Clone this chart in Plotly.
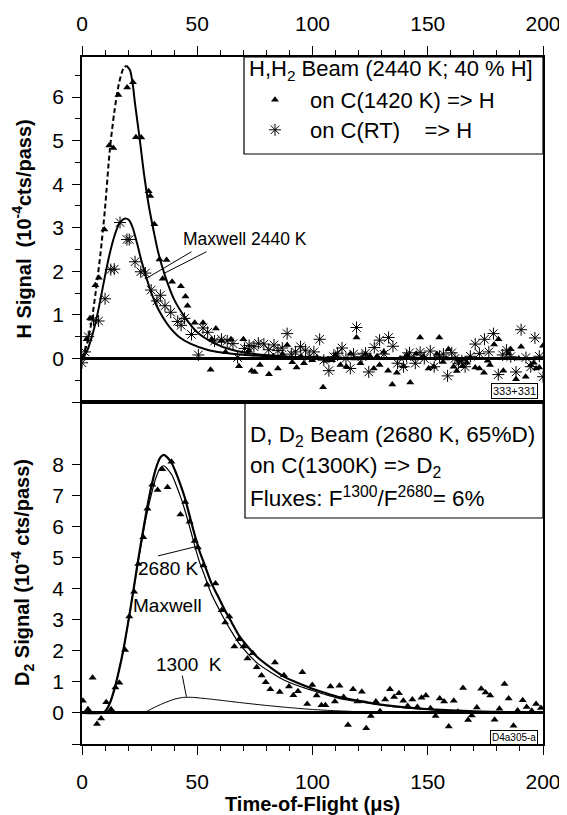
import plotly.graph_objects as go

FONT = "Liberation Sans, Arial, Helvetica, sans-serif"

# ---------------- top panel: H signal ----------------
# Maxwell 2440 K fit for hot carbon (rising part dashed, falling part solid)
big_rise_t = [0, 2, 4, 6, 8, 10, 12, 14, 16, 18, 19.3]
big_rise_v = [0, 0.30, 0.80, 1.55, 2.40, 3.45, 4.75, 5.65, 6.30, 6.66, 6.72]
big_fall_t = [19.3, 20.8, 22, 23, 25, 27, 29, 31, 33, 36, 40, 45, 50, 57, 65, 75, 90, 110, 130, 200]
big_fall_v = [6.72, 6.62, 6.30, 5.85, 5.05, 4.20, 3.50, 2.95, 2.45, 1.90, 1.35, 0.92, 0.60, 0.36, 0.20, 0.10, 0.04, 0.01, 0.0, 0.0]

# Maxwell 2440 K fit for room-temperature carbon
small_t = [0, 2, 4, 6, 8, 10, 12, 14, 16, 18, 19.3, 20.5, 22, 24, 26, 28, 30, 32, 35, 38, 42, 47, 55, 65, 80, 100, 130, 200]
small_v = [0, 0.15, 0.45, 0.85, 1.35, 1.90, 2.40, 2.80, 3.08, 3.20, 3.21, 3.17, 3.00, 2.62, 2.20, 1.84, 1.52, 1.25, 0.95, 0.72, 0.50, 0.34, 0.19, 0.11, 0.05, 0.02, 0.0, 0.0]

# data: on C(1420 K) => H
hot_t = [0, 2, 3.5, 5.8, 7.3, 9.7, 11.8, 13.6, 15.8, 19.6, 22.1, 23.4, 25.7, 28.9, 29.6, 31.4, 33.6, 35.0,
         36.7, 39.1, 42.9, 44.9, 45.8, 48.9, 52.5, 55.8, 56.3, 58.1, 60.5, 62.3, 64.6, 68.1, 70.0, 72.4,
         73.6, 74.9, 77.2, 81.1, 83.0, 85.0, 87.0, 89.0, 91.2, 93.1, 95.0, 96.3, 99.9, 102.0, 104.6, 106.0,
         108.5, 110.0, 112.1, 114.7, 116.5, 118.0, 119.1, 120.8, 123.0, 125.0, 126.6, 128.0, 129.1, 130.9,
         132.8, 134.6, 136.6, 138.0, 139.5, 141.0, 142.4, 144.0, 145.0, 146.7, 148.0, 150.4, 152.5, 154.0,
         155.0, 156.6, 158.0, 159.0, 161.2, 162.6, 164.0, 165.2, 167.0, 168.4, 170.6, 172.4, 174.4, 176.0,
         177.0, 178.8, 180.7, 182.8, 185.0, 186.0, 188.3, 189.5, 190.5, 192.5, 194.7, 196.0, 197.0, 198.4,
         200.0]
hot_v = [0.0, 0.44, 0.92, 1.68, 1.85, 2.96, 4.89, 4.83, 6.05, 6.22, 6.34, 5.08, 5.07, 3.84, 3.73, 3.08, 2.27, 1.83,
         2.26, 1.76, 1.66, 1.42, 1.21, 0.82, 0.82, -0.26, 0.44, 0.69, 0.40, 0.15, 0.44, -0.18, 0.44, 0.18,
         -0.28, -0.31, -0.15, -0.36, 0.05, -0.23, 0.10, 0.31, -0.09, -0.21, 0.05, -0.11, -0.04, 0.02, -0.66, -0.05,
         -0.04, 0.08, -0.15, -0.19, 0.11, 0.00, 0.48, -0.11, 0.10, 0.05, -0.23, 0.05, -0.15, 0.15,
         -0.28, -0.60, -0.33, 0.00, -0.18, 0.08, -0.55, 0.00, 0.11, 0.48, 0.05, -0.23, -0.19, 0.10,
         0.48, -0.08, 0.00, 0.21, -0.19, -0.29, -0.05, -0.18, -0.10, 0.02, -0.21, -0.23, -0.33, -0.05,
         -0.15, 0.32, 0.44, -0.28, 0.12, 0.21, -0.48, 0.00, 0.27, -0.42, -0.15, -0.10, -0.23, -0.21,
         0.29]

# data: on C(RT) => H
rt_t = [0, 1.3, 2.7, 5.0, 7.2, 10.0, 12.5, 14.0, 16.5, 19.5, 20.5, 23.0, 25.5, 27.5, 30.0, 32.5, 34.0, 36.0,
        38.5, 41.5, 43.0, 44.5, 47.5, 50.5, 52.5, 54.5, 57.5, 60.5, 63.0, 65.5, 67.5, 70.5, 72.5, 74.6,
        76.5, 78.9, 81.0, 83.3, 85.0, 86.9, 89.0, 90.8, 92.6, 94.8, 97.0, 98.8, 100.6, 103.1, 104.9, 107.1,
        109.2, 110.9, 112.8, 114.5, 116.4, 117.8, 119.1, 121.5, 123.0, 124.4, 126.8, 129.1, 131.0, 133.0,
        134.9, 136.9, 139.5, 140.8, 142.1, 144.6, 146.7, 148.5, 151.1, 152.8, 155.1, 156.8, 158.6, 160.4,
        161.8, 163.3, 164.8, 166.2, 168.5, 170.6, 172.4, 174.6, 176.5, 178.5, 180.6, 182.5, 184.2, 186.0,
        188.3, 190.5, 192.6, 194.7, 196.5, 198.4, 200.0]
rt_v = [-0.10, 0.15, 0.50, 0.88, 0.86, 1.37, 2.04, 2.05, 3.12, 2.73, 2.73, 2.22, 1.99, 1.96, 1.57, 1.32, 1.45, 1.21,
        1.06, 0.85, 0.76, 0.92, 0.55, 0.08, 0.70, 0.60, 0.40, 0.44, 0.40, 0.34, 0.02, 0.23, 0.30, 0.27,
        0.35, 0.33, 0.20, 0.31, 0.18, 0.24, 0.57, 0.10, 0.15, 0.27, 0.19, 0.05, 0.15, 0.44, -0.04, -0.28,
        0.04, 0.12, 0.24, 0.00, -0.23, 0.10, 0.71, 0.04, 0.12, -0.31, 0.25, 0.42, 0.10, 0.48,
        0.28, -0.11, -0.19, 0.05, 0.13, -0.11, 0.14, 0.00, 0.17, -0.19, 0.04, 0.10, -0.40, 0.13,
        0.00, -0.11, -0.05, -0.19, 0.05, 0.33, 0.11, 0.44, 0.15, 0.57, -0.37, 0.08, 0.19, 0.04,
        -0.31, 0.66, 0.02, -0.19, 0.47, 0.05, -0.42]

# ---------------- bottom panel: D2 signal ----------------
outer_t = [0, 8, 10, 12, 14, 16, 18, 20, 22, 24, 26, 28, 30, 32, 34, 35.5, 37, 39, 41, 43, 44.5, 47, 49, 51, 53,
           56, 59, 62, 65, 68, 72, 76, 82, 88, 95, 100, 106, 112, 120, 126, 135, 148, 160, 170, 185, 200]
outer_v = [0, 0, 0.05, 0.30, 0.75, 1.35, 2.05, 2.90, 3.80, 4.75, 5.65, 6.50, 7.25, 7.85, 8.22, 8.30, 8.22, 8.02,
           7.68, 7.28, 6.95, 6.25, 5.70, 5.20, 4.80, 4.20, 3.75, 3.30, 2.90, 2.50, 2.12, 1.80, 1.45, 1.15, 0.92,
           0.78, 0.63, 0.50, 0.39, 0.31, 0.22, 0.13, 0.08, 0.05, 0.02, 0.0]
inner_t = outer_t
inner_v = [0, 0, 0.05, 0.30, 0.75, 1.35, 2.05, 2.90, 3.80, 4.70, 5.55, 6.35, 7.00, 7.55, 7.88, 7.95, 7.85, 7.65,
           7.30, 6.90, 6.55, 5.90, 5.35, 4.85, 4.45, 3.85, 3.40, 2.98, 2.60, 2.25, 1.90, 1.60, 1.30, 1.04, 0.84,
           0.72, 0.58, 0.46, 0.36, 0.29, 0.20, 0.12, 0.07, 0.04, 0.02, 0.0]
cold_t = [0, 25, 28, 32, 36, 40, 44, 48, 55, 62, 70, 80, 90, 100, 110, 120, 130, 140, 150, 200]
cold_v = [0, 0, 0.05, 0.20, 0.33, 0.44, 0.50, 0.50, 0.45, 0.39, 0.32, 0.24, 0.17, 0.11, 0.07, 0.04, 0.02, 0.01, 0, 0]

d2_t = [0.4, 2.6, 4.6, 6.5, 8.3, 10.5, 12.6, 14.5, 16.2, 18.7, 20.5, 22.6, 24.4, 26.6, 28.4, 30.5, 32.8, 34.8,
        37.1, 38.8, 42.7, 44.8, 46.7, 48.9, 50.3, 52.7, 54.3, 57.9, 60.6, 62.1, 63.9, 66.1, 68.2, 70.1, 71.8,
        74.1, 75.8, 77.9, 79.7, 81.7, 83.7, 85.8, 87.6, 89.8, 91.7, 93.7, 95.6, 97.7, 99.9, 101.8, 103.9,
        105.6, 107.8, 109.7, 111.7, 113.5, 115.4, 117.6, 119.5, 121.4, 123.3, 125.3, 127.5, 129.3, 131.5,
        133.6, 135.4, 137.5, 139.4, 141.3, 143.3, 145.5, 147.3, 149.2, 151.2, 153.4, 155.2, 157.1, 159.1,
        161.3, 163.1, 165.3, 167.5, 169.1, 171.3, 173.2, 175.1, 177.1, 179.0, 181.1, 183.3, 185.1, 187.2,
        189.0, 191.2, 192.9, 195.1, 197.0, 199.1]
d2_v = [0.39, 0.12, 1.13, -0.36, -0.18, 0.34, 0.12, 0.82, 0.97, 2.02, 3.10, 3.90, 4.79, 5.65, 6.57, 7.34, 7.17, 7.84,
        7.26, 8.08, 6.38, 6.78, 6.15, 5.53, 5.32, 4.74, 4.12, 4.16, 3.30, 2.91, 3.10, 2.14, 2.37, 2.14, 1.75,
        1.92, 1.47, 1.20, 0.99, 0.76, 1.62, 0.67, 1.21, 0.85, 0.57, 0.70, 1.31, 0.29, 0.90, 0.56, 0.25,
        0.25, 0.85, 0.37, 0.87, 0.51, -0.39, 0.76, 0.37, 0.68, -0.49, -0.10, 0.37, 0.05, 0.43,
        0.76, 0.51, 0.63, 0.39, 0.22, 0.43, 0.19, 0.49, 0.56, 0.15, -0.10, 0.46, 0.37, -0.44,
        0.39, 0.04, 0.80, -0.23, -0.08, 0.17, 0.78, 0.66, 0.56, -0.22, 0.13, 0.93, 0.46, -0.41,
        0.08, 0.41, 0.19, 0.07, 0.29, 0.16]

x_ticks = [0, 50, 100, 150, 200]
top_y_ticks = [-1, 0, 1, 2, 3, 4, 5, 6]
bot_y_ticks = [-1, 0, 1, 2, 3, 4, 5, 6, 7, 8]

SPLIT = 0.4978
# page is drawn with an 8px body margin; plot area in page pixels is x 82..543, y 57..744
PX0, PW, PY1, PH = 82, 461, 744, 687


def px(xp):
    return (xp - PX0) / PW


def py(yp):
    return (PY1 - yp) / PH


fig = go.Figure()

# top curves
fig.add_trace(go.Scatter(x=big_rise_t, y=big_rise_v, mode="lines", xaxis="x", yaxis="y", showlegend=False,
                         line=dict(color="black", width=2, dash="5px,3px", shape="spline", smoothing=0.8)))
fig.add_trace(go.Scatter(x=big_fall_t, y=big_fall_v, mode="lines", xaxis="x", yaxis="y", showlegend=False,
                         line=dict(color="black", width=2, shape="spline", smoothing=0.8)))
fig.add_trace(go.Scatter(x=small_t, y=small_v, mode="lines", xaxis="x", yaxis="y", showlegend=False,
                         line=dict(color="black", width=2, shape="spline", smoothing=0.8)))
# top data
fig.add_trace(go.Scatter(x=hot_t, y=hot_v, mode="markers", xaxis="x", yaxis="y",
                         name="on C(1420 K) => H", legend="legend",
                         marker=dict(symbol="triangle-up", size=7, color="black")))
fig.add_trace(go.Scatter(x=rt_t, y=rt_v, mode="markers", xaxis="x", yaxis="y",
                         name="on C(RT)\u00a0\u00a0\u00a0\u00a0=> H", legend="legend2",
                         marker=dict(symbol="asterisk-open", size=10, color="black",
                                     line=dict(width=1, color="black"))))

# bottom curves
fig.add_trace(go.Scatter(x=outer_t, y=outer_v, mode="lines", xaxis="x2", yaxis="y2", showlegend=False,
                         line=dict(color="black", width=2.2, shape="spline", smoothing=0.8)))
fig.add_trace(go.Scatter(x=inner_t, y=inner_v, mode="lines", xaxis="x2", yaxis="y2", showlegend=False,
                         line=dict(color="black", width=1.2, shape="spline", smoothing=0.8)))
fig.add_trace(go.Scatter(x=cold_t, y=cold_v, mode="lines", xaxis="x2", yaxis="y2", showlegend=False,
                         line=dict(color="black", width=1, shape="spline", smoothing=0.6)))
fig.add_trace(go.Scatter(x=d2_t, y=d2_v, mode="markers", xaxis="x2", yaxis="y2", showlegend=False,
                         marker=dict(symbol="triangle-up", size=7, color="black")))

tickfont = dict(family=FONT, size=21, color="black")
common_x = dict(range=[0, 200], tickvals=x_ticks, ticks="outside", ticklen=9, tickwidth=1.2,
                tickcolor="black", showline=True, linecolor="black", linewidth=1.8, mirror=True,
                showgrid=False, zeroline=False, tickfont=tickfont, automargin=False,
                minor=dict(tickvals=list(range(0, 201, 10)), ticks="outside", ticklen=5,
                           tickwidth=1, tickcolor="black"))
common_y = dict(ticks="outside", ticklen=8, tickwidth=1.2, tickcolor="black", showline=True,
                linecolor="black", linewidth=1.8, mirror=True, showgrid=False,
                zeroline=True, zerolinecolor="black", zerolinewidth=2.5, tickfont=tickfont,
                ticklabelstandoff=4, automargin=False)

legend_common = dict(xanchor="left", yanchor="middle", bgcolor="rgba(0,0,0,0)", borderwidth=0,
                     font=dict(family=FONT, size=22, color="black"), itemwidth=60)

fig.update_layout(
    width=559, height=807,
    margin=dict(l=74, r=24, t=49, b=71, autoexpand=False),
    paper_bgcolor="white", plot_bgcolor="white",
    font=dict(family=FONT, size=18, color="black"),
    xaxis=dict(domain=[0, 1], anchor="y", side="top", ticklabelstandoff=7, **common_x),
    yaxis=dict(domain=[SPLIT, 1], anchor="x", range=[-1, 6.92], tickvals=top_y_ticks,
               ticktext=["" if v == -1 else str(v) for v in top_y_ticks],
               minor=dict(tickvals=[-0.5 + i for i in range(8)], ticks="outside", ticklen=5,
                          tickwidth=1, tickcolor="black"),
               **common_y),
    xaxis2=dict(domain=[0, 1], anchor="y2", side="bottom", ticklabelstandoff=9, **common_x),
    yaxis2=dict(domain=[0, SPLIT], anchor="x2", range=[-1, 10], tickvals=bot_y_ticks,
                ticktext=["" if v == -1 else str(v) for v in bot_y_ticks], **common_y),
    showlegend=True,
    legend=dict(x=px(240), y=py(100), **legend_common),
    legend2=dict(x=px(240), y=py(130), **legend_common),
)

# legend boxes
fig.add_shape(type="rect", xref="paper", yref="paper", x0=px(244), x1=1, y0=py(154), y1=1,
              line=dict(color="black", width=1.2), fillcolor="rgba(0,0,0,0)")
fig.add_shape(type="rect", xref="paper", yref="paper", x0=px(245), x1=1, y0=py(518), y1=SPLIT,
              line=dict(color="black", width=1.2), fillcolor="rgba(0,0,0,0)")

ann = []
ann.append(dict(text="H,H<sub>2</sub> Beam (2440 K; 40 % H]", xref="paper", yref="paper",
                x=px(247), y=py(70), xanchor="left", yanchor="middle", showarrow=False,
                font=dict(size=22)))
ann.append(dict(text="D, D<sub>2</sub> Beam (2680 K, 65%D)", xref="paper", yref="paper",
                x=px(248), y=py(436), xanchor="left", yanchor="middle", showarrow=False,
                font=dict(size=22.5)))
ann.append(dict(text="on C(1300K) => D<sub>2</sub>", xref="paper", yref="paper",
                x=px(248), y=py(467), xanchor="left", yanchor="middle", showarrow=False,
                font=dict(size=22.5)))
ann.append(dict(text="Fluxes: F<sup>1300</sup>/F<sup>2680</sup>= 6%", xref="paper", yref="paper",
                x=px(248), y=py(497), xanchor="left", yanchor="middle", showarrow=False,
                font=dict(size=22.5)))
# curve labels
ann.append(dict(text="Maxwell 2440 K", xref="x", yref="y", x=70.5, y=2.75, xanchor="center",
                yanchor="middle", showarrow=False, font=dict(size=17.5)))
ann.append(dict(text="2680 K", xref="x2", yref="y2", x=37.5, y=4.65, xanchor="center",
                yanchor="middle", showarrow=False, font=dict(size=19)))
ann.append(dict(text="Maxwell", xref="x2", yref="y2", x=37.0, y=3.45, xanchor="center",
                yanchor="middle", showarrow=False, font=dict(size=19)))
ann.append(dict(text="1300\u00a0\u00a0K", xref="x2", yref="y2", x=46.5, y=1.55, xanchor="center",
                yanchor="middle", showarrow=False, font=dict(size=19)))
# ID boxes
ann.append(dict(text="333+331", xref="paper", yref="paper", x=px(514), y=py(391),
                xanchor="center", yanchor="middle", showarrow=False, font=dict(size=11),
                bordercolor="black", borderwidth=1, borderpad=1, bgcolor="white"))
ann.append(dict(text="D4a305-a", xref="paper", yref="paper", x=px(514), y=py(737),
                xanchor="center", yanchor="middle", showarrow=False, font=dict(size=10),
                bordercolor="black", borderwidth=1, borderpad=1, bgcolor="white"))
# axis titles
ann.append(dict(text="<b>H Signal\u00a0\u00a0(10<sup>-4</sup>cts/pass)</b>", xref="paper", yref="paper",
                x=px(22), y=(SPLIT + 1) / 2, xanchor="center", yanchor="middle",
                textangle=-90, showarrow=False, font=dict(size=20)))
ann.append(dict(text="<b>D<sub>2</sub> Signal (10<sup>-4</sup> cts/pass)</b>", xref="paper", yref="paper",
                x=px(22), y=SPLIT / 2, xanchor="center", yanchor="middle",
                textangle=-90, showarrow=False, font=dict(size=20)))
ann.append(dict(text="<b>Time-of-Flight (\u03bcs)</b>", xref="paper", yref="paper",
                x=0.5, y=py(804), xanchor="center", yanchor="middle",
                showarrow=False, font=dict(size=20)))
fig.update_layout(annotations=ann)

# leader lines for curve labels
for x0, y0, x1, y1, xr, yr in [(47.5, 2.45, 28.0, 1.84, "x", "y"),
                               (54.0, 2.45, 35.5, 1.95, "x", "y"),
                               (33.0, 5.05, 49.5, 5.35, "x2", "y2"),
                               (43.5, 1.20, 45.3, 0.52, "x2", "y2")]:
    fig.add_shape(type="line", xref=xr, yref=yr, x0=x0, y0=y0, x1=x1, y1=y1,
                  line=dict(color="black", width=1))

fig.write_html("out.html")
